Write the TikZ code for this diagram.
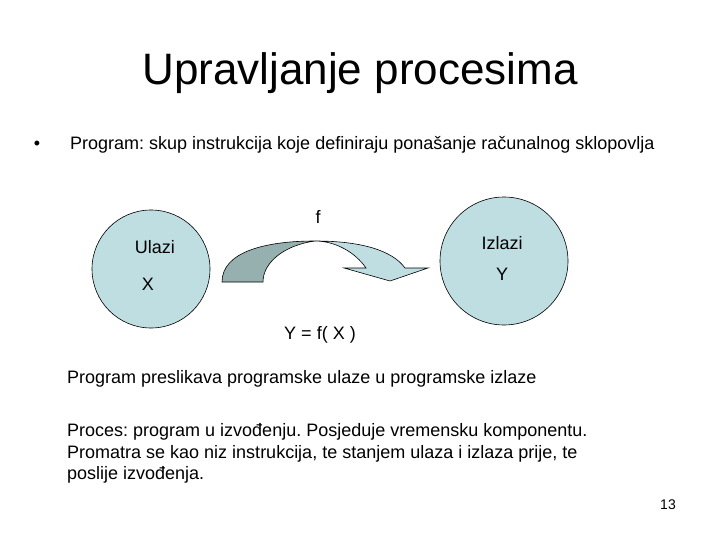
\documentclass[tikz,border=0pt]{standalone}
\usepackage{fontspec}
\setmainfont{Liberation Sans}
\frenchspacing
\definecolor{lightfill}{RGB}{190,222,226}
\definecolor{darkfill}{RGB}{150,176,176}
\begin{document}
\begin{tikzpicture}[x=1pt,y=-1pt,
  txt/.style={inner sep=0pt,font=\fontsize{18}{22}\selectfont},
  circ/.style={circle,draw=black,line width=0.6pt,fill=lightfill,minimum size=#1,inner sep=0pt},
  arrowpart/.style={draw=black,line width=0.6pt,line join=miter}]
\useasboundingbox (0,0) rectangle (720,540);
\node[inner sep=0pt,anchor=base,font=\fontsize{44}{46}\selectfont] (title) at (360,85) {Upravljanje procesima};
\node[txt,anchor=base] (bul) at (37,150) {•};
\node[txt,anchor=base west] (b1) at (70,150) {Program: skup instrukcija koje definiraju ponašanje računalnog sklopovlja};
% circles
\node[circ=118] (in) at (151,269) {};
\node[circ=128] (out) at (504,261) {};
\node[txt,anchor=base] (ulazi) at (155,254) {Ulazi};
\node[txt,anchor=base] (x) at (148,290) {X};
\node[txt,anchor=base] (izlazi) at (502,249) {Izlazi};
\node[txt,anchor=base] (y) at (502,280) {Y};
\node[txt,anchor=base] (f) at (318,224) {f};
% curved arrow
\coordinate (o1) at (222,282);
\coordinate (i1) at (263,282);
\coordinate (top) at (315,241);
\filldraw[arrowpart,fill=darkfill] (o1) .. controls (222,252) and (265,241) .. (top)
  .. controls (285,245) and (263,262) .. (i1) -- cycle;
\filldraw[arrowpart,fill=lightfill] (top) .. controls (360,241) and (392,250) .. (405,268)
  -- (428,268) -- (390,281) -- (344,268) -- (366,268)
  .. controls (355,252) and (335,241) .. (top);
\node[txt,anchor=base] (eq) at (320,339) {Y = f( X )};
\node[txt,anchor=base west] (p1) at (67,383) {Program preslikava programske ulaze u programske izlaze};
\node[txt,anchor=base west] (p2) at (67,436) {Proces: program u izvođenju. Posjeduje vremensku komponentu.};
\node[txt,anchor=base west] (p3) at (67,458) {Promatra se kao niz instrukcija, te stanjem ulaza i izlaza prije, te};
\node[txt,anchor=base west] (p4) at (67,479) {poslije izvođenja.};
\node[inner sep=0pt,anchor=base,font=\fontsize{14}{16}\selectfont] (num) at (668,509) {13};
\end{tikzpicture}
\end{document}
